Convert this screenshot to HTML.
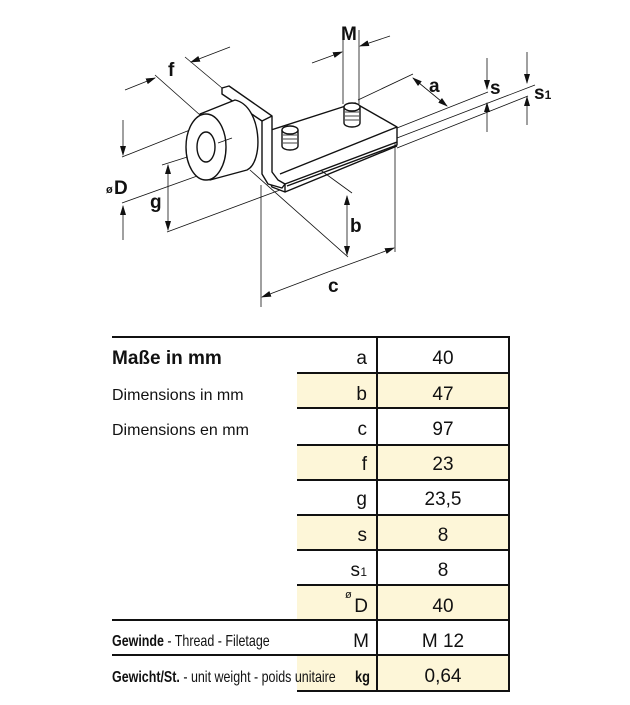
<!DOCTYPE html>
<html><head><meta charset="utf-8"><style>
html,body{margin:0;padding:0;background:#fff;width:630px;height:705px;overflow:hidden;font-family:"Liberation Sans",Arial,sans-serif;}
#d{position:absolute;left:0;top:0}
</style></head><body>
<svg id="d" width="630" height="705" viewBox="0 0 630 705">
<defs><marker id="ar" markerWidth="10" markerHeight="6" refX="9" refY="3" orient="auto" markerUnits="userSpaceOnUse"><path d="M0,0 L10,3 L0,6z" fill="#111"/></marker></defs>
<g stroke="#111" fill="none" stroke-width="0.8">
<line x1="155" y1="75" x2="200" y2="115"/><line x1="185" y1="57" x2="222" y2="88"/>
<line x1="125" y1="90" x2="155" y2="78" marker-end="url(#ar)"/><line x1="230" y1="47" x2="191" y2="62" marker-end="url(#ar)"/>
<line x1="343" y1="30" x2="343" y2="104"/><line x1="359" y1="30" x2="359" y2="104"/>
<line x1="312" y1="63" x2="342" y2="52" marker-end="url(#ar)"/><line x1="390" y1="36" x2="360" y2="46" marker-end="url(#ar)"/>
<line x1="358" y1="100" x2="413" y2="74"/><line x1="413" y1="78" x2="447" y2="106" marker-end="url(#ar)"/><line x1="447" y1="106" x2="413" y2="78" marker-end="url(#ar)"/>
<line x1="397" y1="128" x2="488" y2="92"/><line x1="397" y1="138" x2="535" y2="85"/><line x1="397" y1="148" x2="528" y2="96"/>
<line x1="487" y1="58" x2="487" y2="89" marker-end="url(#ar)"/><line x1="487" y1="132" x2="487" y2="103" marker-end="url(#ar)"/>
<line x1="527" y1="52" x2="527" y2="83" marker-end="url(#ar)"/><line x1="527" y1="125" x2="527" y2="97" marker-end="url(#ar)"/>
<line x1="122" y1="157" x2="210" y2="122"/><line x1="122" y1="203" x2="200" y2="175"/>
<line x1="123" y1="120" x2="123" y2="155" marker-end="url(#ar)"/><line x1="123" y1="240" x2="123" y2="206" marker-end="url(#ar)"/>
<line x1="162" y1="165" x2="200" y2="153"/><line x1="167" y1="232" x2="280" y2="190"/>
<line x1="168" y1="198" x2="168" y2="165" marker-end="url(#ar)"/><line x1="168" y1="198" x2="168" y2="230" marker-end="url(#ar)"/>
<line x1="297" y1="153" x2="352" y2="193"/><line x1="250" y1="170" x2="348" y2="257"/>
<line x1="347" y1="225" x2="347" y2="196" marker-end="url(#ar)"/><line x1="347" y1="225" x2="347" y2="255" marker-end="url(#ar)"/>
<line x1="261" y1="185" x2="261" y2="307"/><line x1="395" y1="142" x2="395" y2="252"/>
<line x1="328" y1="272" x2="262" y2="297" marker-end="url(#ar)"/><line x1="328" y1="272" x2="394" y2="248" marker-end="url(#ar)"/>
</g>
<g stroke="#111" fill="#fff" stroke-width="1.4" stroke-linejoin="round">
<polygon points="271,130 355,103 397,127 397,142 285,184 285,192 272,187 268,178"/>
<polyline fill="none" points="397,127 280,174"/>
<polyline fill="none" points="397,142 397,145 287,186"/>
<line x1="285" y1="192" x2="397" y2="146"/>
<polygon points="222,88 229,86 272,116 272,172 278,180 285,184 282,188 268,184 262,174 262,121 222,94"/>
<line x1="262" y1="121" x2="272" y2="116"/>
<path d="M200,114 L235,100 C262,106 264,162 247,170 L210,180 Z"/>
<ellipse cx="206" cy="147" rx="20" ry="33"/>
<ellipse cx="206" cy="147" rx="9" ry="15"/>
<path d="M282,130 L282,146 A8,4 0 0 0 298,146 L298,130"/><ellipse cx="290" cy="130" rx="8" ry="4"/>
<path d="M344,107 L344,123 A8,4 0 0 0 360,123 L360,107"/><ellipse cx="352" cy="107" rx="8" ry="4"/>
</g>
<g stroke="#111" fill="none" stroke-width="0.8">
<line x1="218" y1="143" x2="232" y2="138"/>
<line x1="283" y1="135" x2="297" y2="135"/><line x1="283" y1="139" x2="297" y2="139"/><line x1="283" y1="143" x2="297" y2="143"/>
<line x1="345" y1="112" x2="359" y2="112"/><line x1="345" y1="116" x2="359" y2="116"/><line x1="345" y1="120" x2="359" y2="120"/>
</g>
<g font-family="Liberation Sans,Arial,sans-serif" font-weight="bold" fill="#111">
<text x="168" y="76" font-size="19">f</text>
<text x="341" y="40" font-size="19">M</text>
<text x="429" y="92" font-size="19">a</text>
<text x="490" y="94" font-size="19">s</text>
<text x="534" y="99" font-size="19">s<tspan font-size="12">1</tspan></text>
<text x="106" y="193" font-size="11">ø</text><text x="114" y="194" font-size="19">D</text>
<text x="150" y="208" font-size="19">g</text>
<text x="350" y="232" font-size="19">b</text>
<text x="328" y="292" font-size="19">c</text>
</g>
<g fill="#fdf6d8">
<rect x="297" y="373" width="212" height="35"/>
<rect x="297" y="445" width="212" height="35"/>
<rect x="297" y="515" width="212" height="35"/>
<rect x="297" y="585" width="212" height="35"/>
<rect x="297" y="655" width="212" height="36"/>
</g>
<g stroke="#111" stroke-width="2">
<line x1="112" y1="337" x2="510" y2="337"/>
<line x1="297" y1="373" x2="510" y2="373"/>
<line x1="297" y1="408" x2="510" y2="408"/>
<line x1="297" y1="445" x2="510" y2="445"/>
<line x1="297" y1="480" x2="510" y2="480"/>
<line x1="297" y1="515" x2="510" y2="515"/>
<line x1="297" y1="550" x2="510" y2="550"/>
<line x1="297" y1="585" x2="510" y2="585"/>
<line x1="112" y1="620" x2="510" y2="620"/>
<line x1="112" y1="655" x2="510" y2="655"/>
<line x1="297" y1="691" x2="510" y2="691"/>
<line x1="377" y1="337" x2="377" y2="691"/>
<line x1="509" y1="337" x2="509" y2="691"/>
</g>
<g font-family="Liberation Sans,Arial,sans-serif" fill="#111" font-size="19">
<text x="112" y="364" font-weight="bold">Maße in mm</text>
<text x="112" y="400" font-size="16">Dimensions in mm</text>
<text x="112" y="435" font-size="16">Dimensions en mm</text>
<g text-anchor="end">
<text x="367" y="364">a</text><text x="367" y="400">b</text><text x="367" y="435">c</text>
<text x="367" y="470">f</text><text x="367" y="505">g</text><text x="367" y="541">s</text>
<text x="360" y="576">s</text><text x="367" y="576" font-size="12">1</text>
<text x="368" y="612">D</text><text x="369" y="647">M</text>
</g>
<text x="345" y="598" font-size="11">ø</text>
<text x="355" y="682" font-size="16" font-weight="bold" transform="translate(355,0) scale(0.8,1) translate(-355,0)">kg</text>
<g text-anchor="middle">
<text x="443" y="364">40</text><text x="443" y="400">47</text><text x="443" y="435">97</text>
<text x="443" y="470">23</text><text x="443" y="505">23,5</text><text x="443" y="541">8</text>
<text x="443" y="576">8</text><text x="443" y="612">40</text><text x="443" y="647">M 12</text>
<text x="443" y="682">0,64</text>
</g>
<g transform="translate(112,0) scale(0.78,1)" font-size="16">
<text x="0" y="646"><tspan font-weight="bold">Gewinde</tspan> - Thread - Filetage</text>
<text x="0" y="682"><tspan font-weight="bold">Gewicht/St.</tspan> - unit weight - poids unitaire</text>
</g>
</g>
</svg>
</body></html>
